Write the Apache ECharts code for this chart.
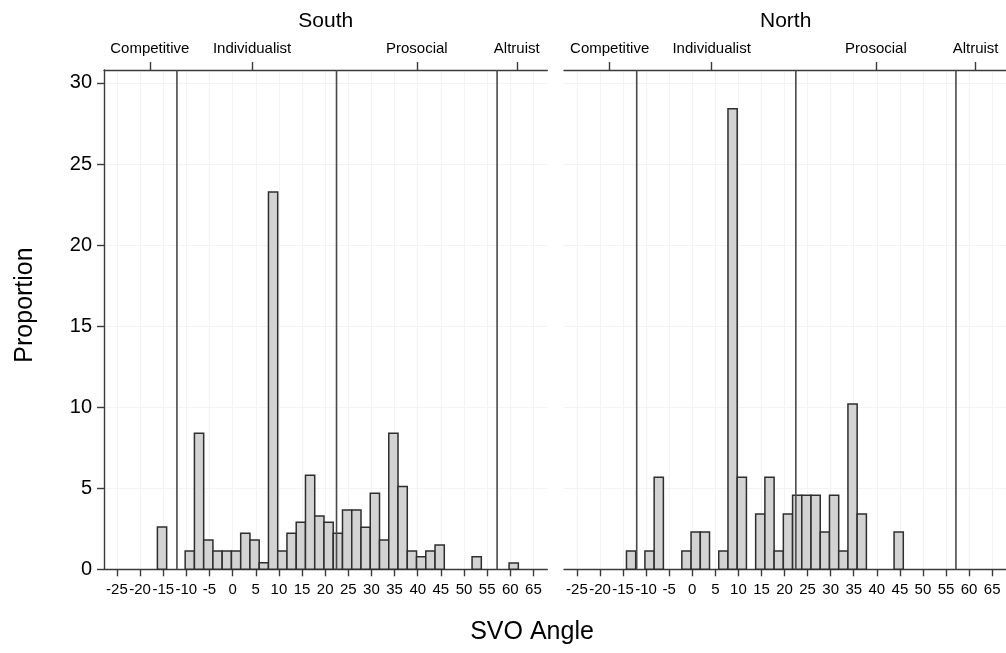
<!DOCTYPE html>
<html>
<head>
<meta charset="utf-8">
<script src="https://cdn.jsdelivr.net/npm/echarts@6/dist/echarts.min.js"></script>
<style>
  html, body { margin: 0; padding: 0; background: #fff; }
  #chart { width: 1006px; height: 653px; }
</style>
</head>
<body>
<div id="chart"></div>
<script>
// ---- data ----
const panels = ['South', 'North'];
const binStart = -16.26;   // left edge of first histogram bin (SVO angle, degrees)
const binWidth = 2;        // histogram bin width (degrees)
// proportion (%) per bin, bin k covers [binStart + k*binWidth, binStart + (k+1)*binWidth)
const southValues = [2.61, 0, 0, 1.13, 8.40, 1.81, 1.13, 1.13, 1.13, 2.22,
                     1.81, 0.41, 23.27, 1.13, 2.22, 2.90, 5.80, 3.29, 2.90, 2.22,
                     3.66, 3.66, 2.59, 4.69, 1.81, 8.40, 5.10, 1.13, 0.78, 1.13,
                     1.50, 0, 0, 0, 0.78, 0, 0, 0, 0.39];
const northValues = [0, 1.13, 0, 1.13, 5.68, 0, 0, 1.13, 2.30, 2.30,
                     0, 1.13, 28.41, 5.68, 0, 3.41, 5.68, 1.13, 3.41, 4.57,
                     4.57, 4.57, 2.30, 4.57, 1.13, 10.20, 3.41, 0, 0, 0,
                     2.30, 0, 0, 0, 0, 0, 0, 0, 0];
const categoryBounds = [-12.04, 22.45, 57.15];
const categoryNames = ['Competitive', 'Individualist', 'Prosocial', 'Altruist'];
const categoryTickPos = [-17.9, 4.2, 39.8, 61.4];
const xTickValues = [-25, -20, -15, -10, -5, 0, 5, 10, 15, 20, 25, 30, 35, 40, 45, 50, 55, 60, 65];
const yTickValues = [0, 5, 10, 15, 20, 25, 30];
const xMin = -27.8, xMax = 68, yMin = 0, yMax = 30.8;

// ---- build ----
const FONT = 'Liberation Sans';
const AXIS_COLOR = '#3a3a3a';

function binData(values) {
  const out = [];
  values.forEach((v, k) => {
    if (v > 0) out.push([binStart + k * binWidth, binStart + (k + 1) * binWidth, v]);
  });
  return out;
}

const grids = [
  { left: 104, top: 70, width: 443.3, height: 499.3 },
  { left: 564, top: 70, width: 443.3, height: 499.3 }
];

const xAxes = [], yAxes = [], series = [];
panels.forEach((name, i) => {
  xAxes.push({
    gridIndex: i, type: 'value', position: 'bottom', min: xMin, max: xMax,
    axisLine: { show: true, onZero: false, lineStyle: { color: AXIS_COLOR, width: 1.4 } },
    axisTick: { show: true, customValues: xTickValues, length: 7, lineStyle: { color: AXIS_COLOR, width: 1.4 } },
    axisLabel: { customValues: xTickValues, fontFamily: FONT, fontSize: 15, color: '#000', margin: 13 },
    splitLine: { show: true, lineStyle: { color: '#f3f3f3', width: 1 } }
  });
  xAxes.push({
    gridIndex: i, type: 'value', position: 'top', min: xMin, max: xMax,
    axisLine: { show: true, onZero: false, lineStyle: { color: AXIS_COLOR, width: 1.4 } },
    axisTick: { show: true, customValues: categoryTickPos, length: 8, lineStyle: { color: AXIS_COLOR, width: 1.4 } },
    axisLabel: {
      customValues: categoryTickPos, fontFamily: FONT, fontSize: 15, color: '#000', margin: 14,
      formatter: (v) => {
        let best = 0;
        categoryTickPos.forEach((p, j) => { if (Math.abs(p - v) < Math.abs(categoryTickPos[best] - v)) best = j; });
        return categoryNames[best];
      }
    },
    splitLine: { show: false }
  });
  yAxes.push({
    gridIndex: i, type: 'value', min: yMin, max: yMax,
    axisLine: { show: i === 0, onZero: false, lineStyle: { color: AXIS_COLOR, width: 1.4 } },
    axisTick: { show: i === 0, customValues: yTickValues, length: 7, lineStyle: { color: AXIS_COLOR, width: 1.4 } },
    axisLabel: { show: i === 0, customValues: yTickValues, fontFamily: FONT, fontSize: 20, color: '#000', margin: 12 },
    splitLine: { show: true, lineStyle: { color: '#f3f3f3', width: 1 } }
  });
  series.push({
    type: 'custom', name: name, xAxisIndex: i * 2, yAxisIndex: i,
    data: binData(i === 0 ? southValues : northValues),
    encode: { x: [0, 1], y: 2 },
    renderItem: (params, api) => {
      const p0 = api.coord([api.value(0), 0]);
      const p1 = api.coord([api.value(1), api.value(2)]);
      return {
        type: 'rect',
        shape: { x: p0[0], y: p1[1], width: p1[0] - p0[0], height: p0[1] - p1[1] },
        style: { fill: '#d3d3d3', stroke: '#2e2e2e', lineWidth: 1.5 }
      };
    },
    z: 2
  });
  series.push({
    type: 'custom', name: name + ' bounds', xAxisIndex: i * 2, yAxisIndex: i,
    data: categoryBounds.map(b => [b]),
    encode: { x: 0 },
    renderItem: (params, api) => {
      const a = api.coord([api.value(0), yMin]);
      const b = api.coord([api.value(0), yMax]);
      return {
        type: 'line',
        shape: { x1: a[0], y1: a[1], x2: b[0], y2: b[1] },
        style: { stroke: '#4a4a4a', lineWidth: 1.6 }
      };
    },
    z: 3
  });
});

const chart = echarts.init(document.getElementById('chart'), null, { renderer: 'canvas' });
chart.setOption({
  animation: false,
  backgroundColor: '#fff',
  grid: grids,
  xAxis: xAxes,
  yAxis: yAxes,
  series: series,
  graphic: [
    { type: 'text', x: 325.7, y: 21, style: { text: panels[0], font: '21px "Liberation Sans"', fill: '#000', align: 'center', verticalAlign: 'middle' } },
    { type: 'text', x: 785.7, y: 21, style: { text: panels[1], font: '21px "Liberation Sans"', fill: '#000', align: 'center', verticalAlign: 'middle' } },
    { type: 'text', x: 532, y: 632, style: { text: 'SVO Angle', font: '25px "Liberation Sans"', fill: '#000', align: 'center', verticalAlign: 'middle' } },
    { type: 'text', x: 25, y: 305, rotation: Math.PI / 2, style: { text: 'Proportion', font: '25px "Liberation Sans"', fill: '#000', align: 'center', verticalAlign: 'middle' } }
  ]
});
</script>
</body>
</html>
